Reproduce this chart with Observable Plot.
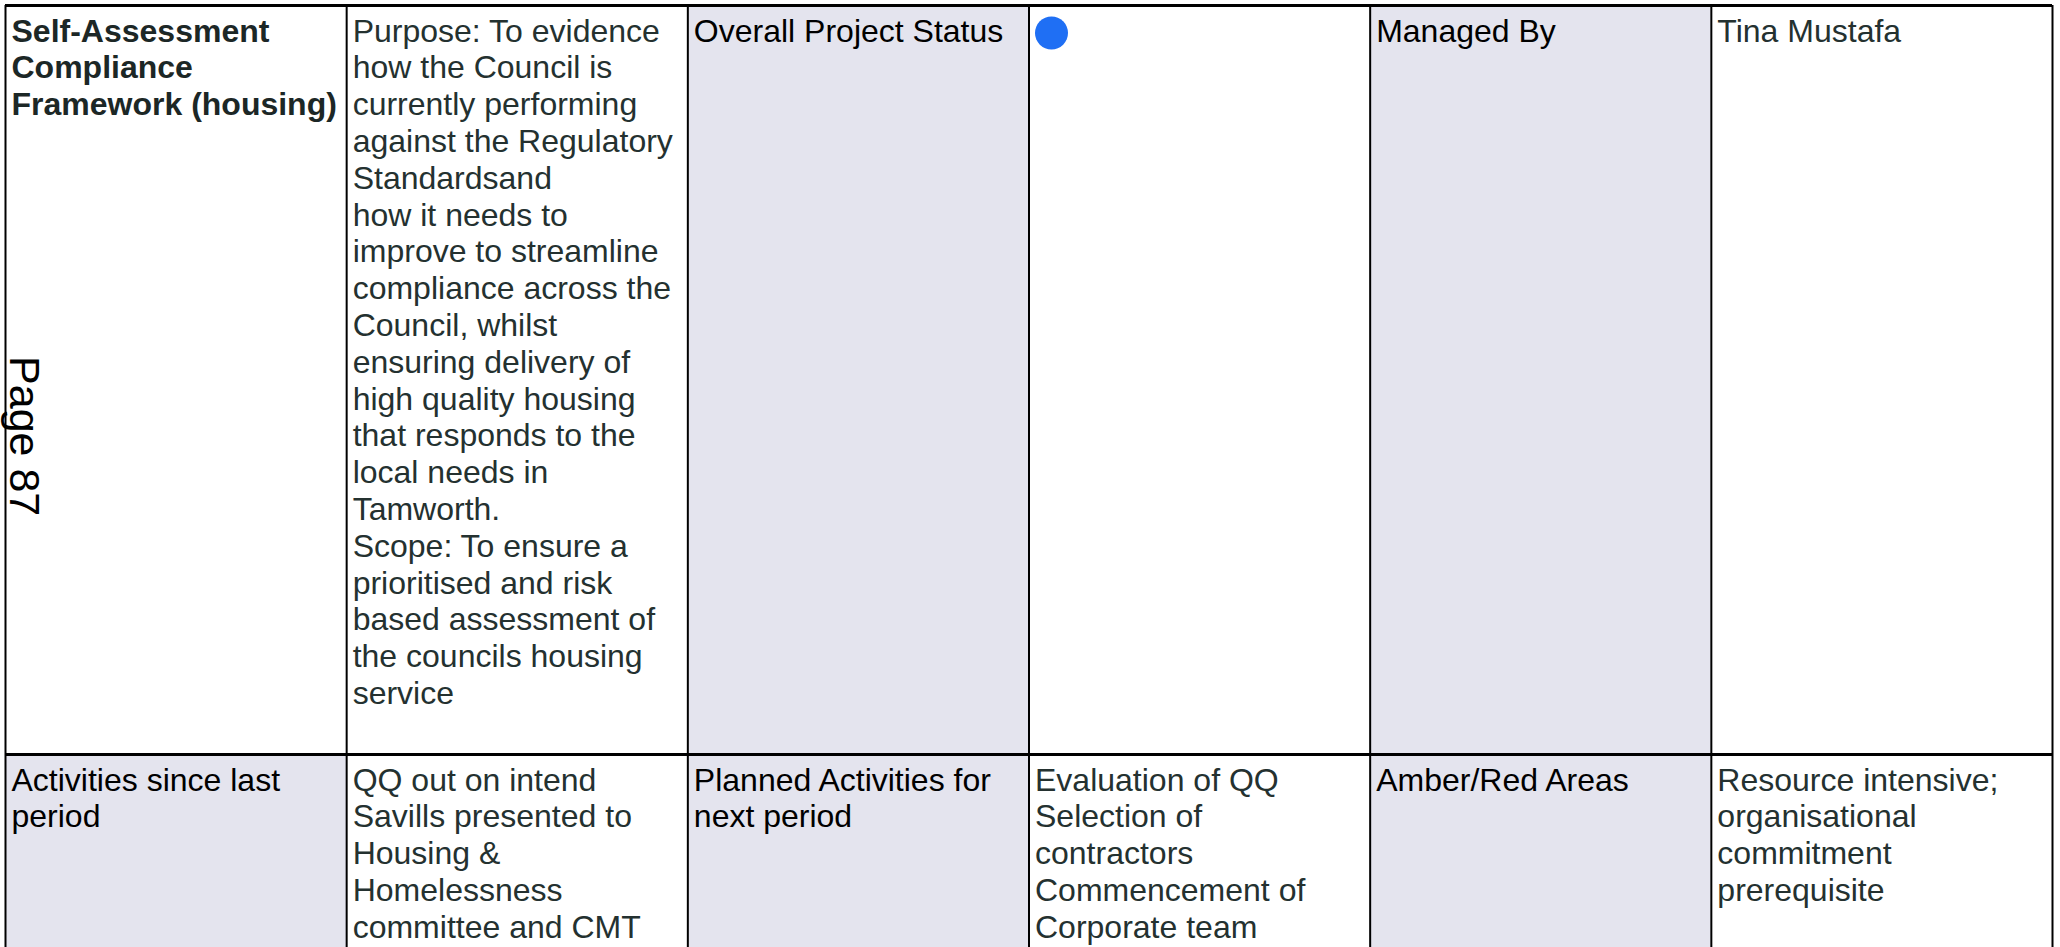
<!DOCTYPE html>
<html>
<head>
<meta charset="utf-8">
<script src="https://cdn.jsdelivr.net/npm/d3@7"></script>
<script src="https://cdn.jsdelivr.net/npm/@observablehq/plot@0.6"></script>
<style>
  html, body { margin: 0; padding: 0; background: #fff; overflow: hidden; }
</style>
</head>
<body>
<div id="chart"></div>
<script>
// ---- content (table cells, left to right) ----
const row1Texts = [
  "Self-Assessment\nCompliance\nFramework (housing)",
  "Purpose: To evidence\nhow the Council is\ncurrently performing\nagainst the Regulatory\nStandardsand\nhow it needs to\nimprove to streamline\ncompliance across the\nCouncil, whilst\nensuring delivery of\nhigh quality housing\nthat responds to the\nlocal needs in\nTamworth.\nScope: To ensure a\nprioritised and risk\nbased assessment of\nthe councils housing\nservice",
  "Overall Project Status",
  "",
  "Managed By",
  "Tina Mustafa"
];
const row2Texts = [
  "Activities since last\nperiod",
  "QQ out on intend\nSavills presented to\nHousing &\nHomelessness\ncommittee and CMT",
  "Planned Activities for\nnext period",
  "Evaluation of QQ\nSelection of\ncontractors\nCommencement of\nCorporate team",
  "Amber/Red Areas",
  "Resource intensive;\norganisational\ncommitment\nprerequisite"
];
const row1Kinds = ["title", "value", "label", "status", "label", "value"];
const row2Kinds = ["label", "value", "label", "value", "label", "value"];
const statusValues = ["Blue"];
const pageLabel = "Page 87";

// ---- layout & style ----
const W = 2060, H = 947;
const colRange = [5, 2052];
const rowRange = [5, 754, 975];
const fontSize = 32, lineHeight = 1.15;
const shade = "#e4e4ee";
const colors = {title: "#1c2726", value: "#243130", label: "#000000"};
const statusColor = {Blue: "#1f6ff4"};

const rows = [row1Texts, row2Texts];
const kinds = [row1Kinds, row2Kinds];
const cells = rows.flatMap((texts, r) => texts.map((text, c) => ({r, c, text, kind: kinds[r][c]})));
const statusCells = cells.filter(d => d.kind === "status").map((d, i) => ({...d, status: statusValues[i]}));

const textOpts = {
  x: "c", y: "r", text: "text", dx: 6, dy: 10,
  textAnchor: "start", lineAnchor: "top",
  fontSize, lineHeight, fontFamily: "Liberation Sans, Arial, sans-serif"
};

const chart = Plot.plot({
  width: W, height: H,
  margin: 0,
  x: {type: "linear", domain: [0, 6], range: colRange, axis: null},
  y: {type: "linear", domain: [0, 1, 2], range: rowRange, axis: null},
  style: {background: "#fff", fontFamily: "Liberation Sans, Arial, sans-serif", overflow: "hidden"},
  marks: [
    Plot.rect(cells, {
      x1: "c", x2: d => d.c + 1, y1: "r", y2: d => d.r + 1,
      fill: d => d.kind === "label" ? shade : "#ffffff"
    }),
    Plot.ruleX(d3.range(7), {y1: 0, y2: 2, stroke: "#000", strokeWidth: 2}),
    Plot.ruleY([0, 1], {x1: 0, x2: 6, stroke: "#000", strokeWidth: 3}),
    Plot.text(cells.filter(d => d.kind === "title"), {...textOpts, fill: colors.title, fontWeight: "bold"}),
    Plot.text(cells.filter(d => d.kind === "value" || d.kind === "label"), {...textOpts, fill: d => colors[d.kind]}),
    Plot.dot(statusCells, {x: "c", y: "r", dx: 22.5, dy: 27.5, r: 16.5, fill: d => statusColor[d.status], stroke: null}),
    Plot.text([pageLabel], {
      x: () => 0, y: () => 0.468, text: d => d, rotate: 90,
      dx: 18.5, textAnchor: "start", fontSize: 43, fill: "#000",
      fontFamily: "Liberation Sans, Arial, sans-serif"
    })
  ]
});
document.getElementById("chart").appendChild(chart);
</script>
</body>
</html>
